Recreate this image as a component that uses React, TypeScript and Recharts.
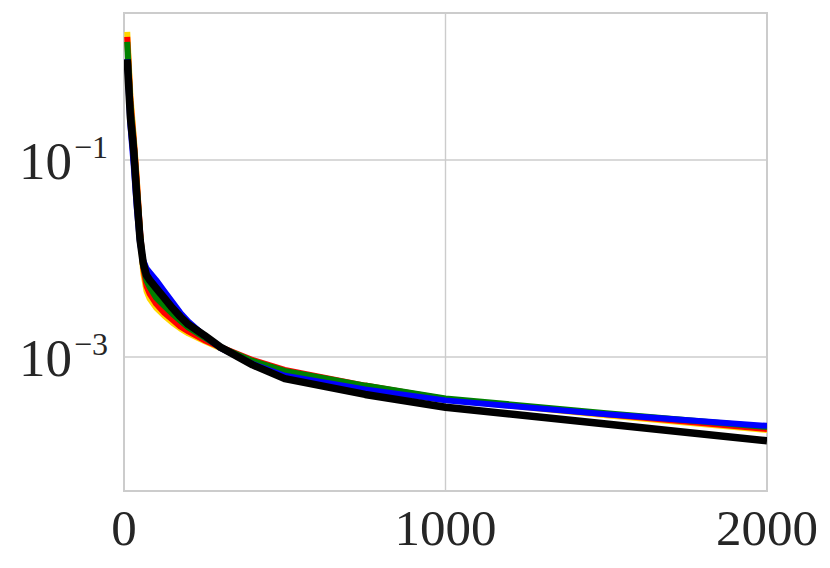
import React from "react";
import { LineChart, Line, XAxis, YAxis, CartesianGrid, ReferenceArea } from "recharts";

const steps = [10, 20, 30, 40, 50, 60, 70, 80, 100, 125, 150, 175, 200, 250, 300, 400, 500, 750, 1000, 1500, 2000];
const yellowVals = [2.0, 0.447, 0.178, 0.0631, 0.0178, 0.00708, 0.00468, 0.0039, 0.00316, 0.00263, 0.00224, 0.00195, 0.00174, 0.00145, 0.00123, 0.000912, 0.000724, 0.000501, 0.000372, 0.000257, 0.000182];
const redVals = [1.78, 0.398, 0.166, 0.0603, 0.0191, 0.00794, 0.00525, 0.00437, 0.00347, 0.00282, 0.0024, 0.00204, 0.00182, 0.00148, 0.00126, 0.000933, 0.000741, 0.000513, 0.000372, 0.000263, 0.000186];
const greenVals = [1.58, 0.355, 0.151, 0.0525, 0.0178, 0.00832, 0.00595, 0.00511, 0.00398, 0.00331, 0.00275, 0.00234, 0.002, 0.00158, 0.00126, 0.000912, 0.000724, 0.000513, 0.00038, 0.000269, 0.000195];
const blueVals = [1.05, 0.224, 0.0891, 0.0316, 0.0141, 0.00955, 0.00794, 0.00724, 0.00603, 0.00468, 0.00363, 0.00282, 0.00229, 0.00164, 0.00123, 0.000851, 0.000646, 0.000468, 0.000363, 0.000263, 0.0002];
const blackVals = [1.05, 0.269, 0.126, 0.0417, 0.0155, 0.00891, 0.00676, 0.00603, 0.00501, 0.00398, 0.00316, 0.00257, 0.00214, 0.00166, 0.00126, 0.000832, 0.000603, 0.000417, 0.000309, 0.000209, 0.000141];

const xTicks = [0, 1000, 2000];
const yTicks = [0.1, 0.001];
const yTickExponents = ["−1", "−3"];
const xDomain = [0, 2000];
const yDomain = [4.365e-5, 3.105];

const data = steps.map((s, i) => ({
  step: s,
  yellow: yellowVals[i],
  red: redVals[i],
  green: greenVals[i],
  blue: blueVals[i],
  black: blackVals[i],
}));

const FONT = "'Liberation Serif', 'DejaVu Serif', serif";
const TEXT_COLOR = "#262626";

const XTick = (props: any) => {
  const { x, y, payload } = props;
  return (
    <text x={x} y={y + 54} textAnchor="middle" fontFamily={FONT} fontSize={51} fill={TEXT_COLOR}>
      {payload.value}
    </text>
  );
};

const YTick = (props: any) => {
  const { x, y, payload } = props;
  const idx = yTicks.findIndex((t) => Math.abs(t - payload.value) / t < 1e-6);
  const exp = idx >= 0 ? yTickExponents[idx] : "";
  return (
    <text x={x - 16} y={y + 19} textAnchor="end" fontFamily={FONT} fontSize={53} fill={TEXT_COLOR}>
      <tspan>10</tspan>
      <tspan dx={2} dy={-21} fontSize={32}>{exp}</tspan>
    </text>
  );
};

const series = [
  { key: "yellow", color: "#FFD700", width: 6 },
  { key: "red", color: "#FF0000", width: 6 },
  { key: "green", color: "#008000", width: 6 },
  { key: "blue", color: "#0000FF", width: 6 },
  { key: "black", color: "#000000", width: 7.5 },
];

export default function App() {
  return (
    <div style={{ position: "absolute", left: 0, top: 0, background: "#fff" }}>
      <LineChart width={830} height={568} data={data} margin={{ top: 13, right: 63, bottom: 0, left: 0 }}>
        <CartesianGrid stroke="#cccccc" strokeWidth={1.4} />
        <ReferenceArea
          x1={xDomain[0]}
          x2={xDomain[1]}
          y1={yDomain[0]}
          y2={yDomain[1]}
          fill="none"
          stroke="#cccccc"
          strokeWidth={2}
          fillOpacity={0}
          ifOverflow="extendDomain"
        />
        <XAxis
          dataKey="step"
          type="number"
          domain={xDomain}
          ticks={xTicks}
          tickLine={false}
          axisLine={false}
          tickSize={0}
          tickMargin={0}
          height={77}
          tick={<XTick />}
          allowDataOverflow
        />
        <YAxis
          type="number"
          scale="log"
          domain={yDomain}
          ticks={yTicks}
          tickLine={false}
          axisLine={false}
          tickSize={0}
          tickMargin={0}
          width={124}
          tick={<YTick />}
          allowDataOverflow
        />
        {series.map((s) => (
          <Line
            key={s.key}
            dataKey={s.key}
            stroke={s.color}
            strokeWidth={s.width}
            dot={false}
            activeDot={false}
            type="linear"
            strokeLinejoin="round"
            strokeLinecap="butt"
            isAnimationActive={false}
          />
        ))}
      </LineChart>
    </div>
  );
}
